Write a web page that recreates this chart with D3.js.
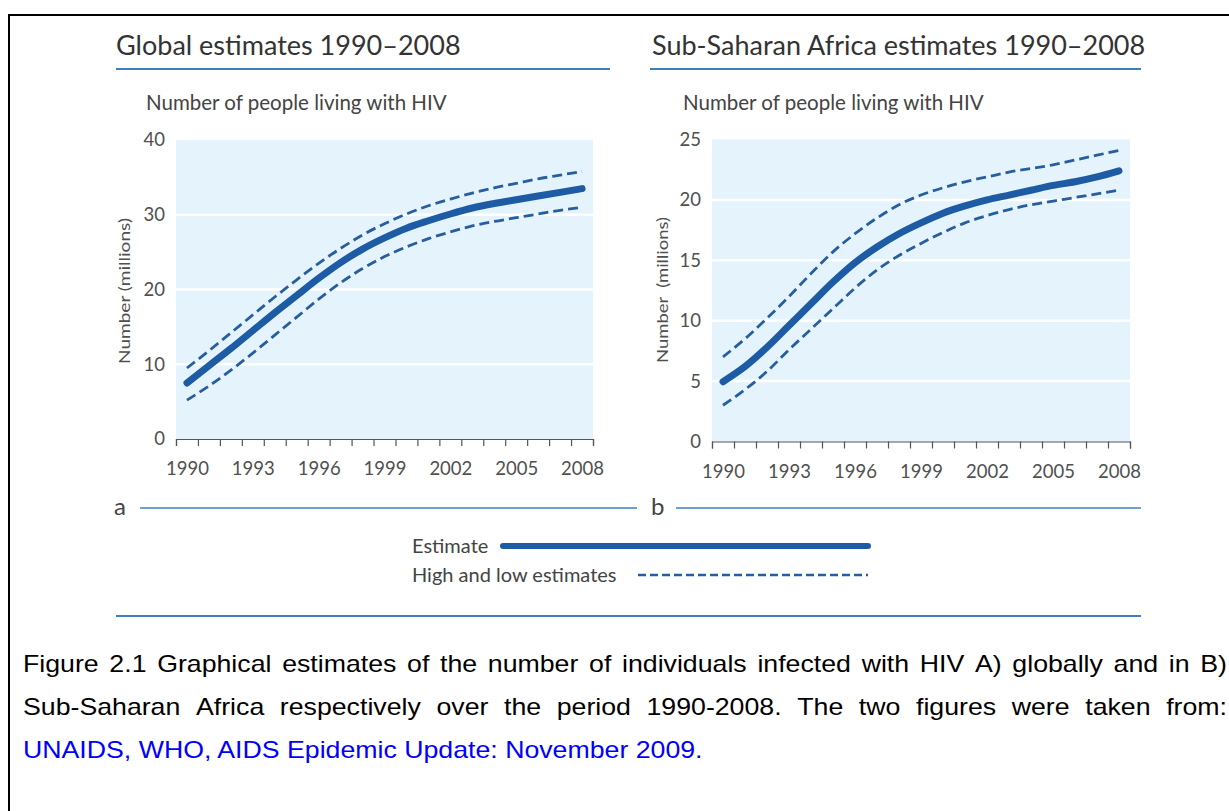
<!DOCTYPE html>
<html><head><meta charset="utf-8">
<script src="https://cdn.jsdelivr.net/npm/d3@7"></script>
<style>body{margin:0;background:#fff;overflow:hidden} svg{display:block}</style>
</head><body>
<svg id="c" width="1229" height="811"></svg>
<script>
// ---------- data ----------
const years = [1990,1991,1992,1993,1994,1995,1996,1997,1998,1999,2000,2001,2002,2003,2004,2005,2006,2007,2008];
const yearLabels = [1990,1993,1996,1999,2002,2005,2008];

const globalEstimate = [7.5,9.8,12.1,14.5,16.9,19.2,21.5,23.6,25.4,26.9,28.2,29.2,30.1,30.9,31.5,32.0,32.5,33.0,33.5];
const globalHigh     = [9.5,11.8,14.2,16.6,19.0,21.3,23.5,25.5,27.3,28.8,30.1,31.2,32.1,32.9,33.6,34.2,34.8,35.3,35.8];
const globalLow      = [5.2,7.1,9.2,11.5,13.9,16.3,18.7,20.9,22.8,24.4,25.7,26.8,27.7,28.5,29.1,29.6,30.1,30.6,31.0];

const ssaEstimate = [4.95,6.2,7.8,9.6,11.4,13.2,14.8,16.1,17.2,18.1,18.9,19.5,20.0,20.4,20.8,21.2,21.5,21.9,22.4];
const ssaHigh     = [7.0,8.5,10.2,12.0,13.9,15.7,17.2,18.5,19.6,20.4,21.0,21.5,21.9,22.3,22.6,22.9,23.3,23.7,24.1];
const ssaLow      = [3.0,4.3,5.8,7.6,9.3,11.0,12.7,14.2,15.4,16.4,17.3,18.1,18.7,19.2,19.6,19.9,20.2,20.5,20.8];

const globalTicks = [0,10,20,30,40];
const ssaTicks = [0,5,10,15,20,25];

const panelTitles = ["Global estimates 1990\u20132008","Sub-Saharan Africa estimates 1990\u20132008"];
const subTitle = "Number of people living with HIV";
const yTitles = ["Number (millions)","Number\u00a0\u00a0(millions)"];
const panelLetters = ["a","b"];
const legendLabels = ["Estimate","High and low estimates"];
const captionLines = [
  "Figure 2.1 Graphical estimates of the number of individuals infected with HIV A) globally and in B)",
  "Sub-Saharan Africa respectively over the period 1990-2008. The two figures were taken from:",
  "UNAIDS, WHO, AIDS Epidemic Update: November 2009."
];

// ---------- style ----------
const FONT = "Lato, 'Open Sans', sans-serif";
const BLUE_RULE = "#3f7fc0";
const LINE_BLUE = "#1d5ca5";
const DASH_BLUE = "#275e9e";
const BG = "#e5f3fc";

const svg = d3.select("#c");

// outer frame
svg.append("line").attr("x1",8).attr("x2",1229).attr("y1",15).attr("y2",15).attr("stroke","#000").attr("stroke-width",2);
svg.append("line").attr("x1",9).attr("x2",9).attr("y1",14).attr("y2",811).attr("stroke","#000").attr("stroke-width",2);

function panel(cfg){
  const g = svg.append("g");
  g.append("text").attr("x",cfg.titleX).attr("y",55).attr("font-family",FONT).attr("font-size",27)
    .attr("fill","#333").text(cfg.title);
  g.append("line").attr("x1",cfg.ruleX0).attr("x2",cfg.ruleX1).attr("y1",69).attr("y2",69)
    .attr("stroke",BLUE_RULE).attr("stroke-width",2);
  g.append("text").attr("x",cfg.subX).attr("y",110).attr("font-family",FONT).attr("font-size",20.5)
    .attr("fill","#444").text(subTitle);

  const x = d3.scaleLinear().domain([1989.5,2008.5]).range([cfg.x0,cfg.x1]);
  const y = d3.scaleLinear().domain([0,cfg.ymax]).range([cfg.yBottom,cfg.yTop]);

  g.append("rect").attr("x",cfg.x0).attr("y",cfg.yTop).attr("width",cfg.x1-cfg.x0).attr("height",cfg.yBottom-cfg.yTop)
    .attr("fill",BG);
  g.selectAll(".grid").data(cfg.ticks.filter(t=>t>0 && t<cfg.ymax)).join("line")
    .attr("x1",cfg.x0).attr("x2",cfg.x1).attr("y1",d=>y(d)).attr("y2",d=>y(d))
    .attr("stroke","#fff").attr("stroke-width",2.5);

  const ya = g.append("g").attr("transform",`translate(${cfg.x0},0)`)
    .call(d3.axisLeft(y).tickValues(cfg.ticks).tickSize(0).tickPadding(11));
  ya.select(".domain").remove();
  ya.selectAll("text").attr("font-family",FONT).attr("font-size",18.5).attr("fill","#505050");

  const edges = d3.range(years.length+1).map(i=>1989.5+i);
  const xa = g.append("g").attr("transform",`translate(0,${cfg.yBottom})`)
    .call(d3.axisBottom(x).tickValues(edges).tickSize(7).tickFormat(""));
  xa.select(".domain").attr("stroke","#555").attr("stroke-width",1.2);
  xa.selectAll(".tick line").attr("stroke","#555").attr("stroke-width",1.2);
  const xl = g.append("g").attr("transform",`translate(0,${cfg.yBottom})`)
    .call(d3.axisBottom(x).tickValues(yearLabels).tickSize(0).tickPadding(23).tickFormat(d3.format("d")));
  xl.select(".domain").remove();
  xl.selectAll("text").attr("font-family",FONT).attr("font-size",18.5).attr("fill","#505050");

  g.append("text").attr("transform",`translate(${cfg.yTitleX},${cfg.yTitleY}) rotate(-90)`)
    .attr("text-anchor","middle").attr("font-family",FONT).attr("font-size",16).attr("fill","#505050")
    .attr("textLength",146).attr("lengthAdjust","spacingAndGlyphs")
    .text(cfg.yTitle);

  const line = d3.line().x((d,i)=>x(years[i])).y(d=>y(d)).curve(d3.curveMonotoneX);
  [cfg.high,cfg.low].forEach(s=>{
    g.append("path").attr("d",line(s)).attr("fill","none").attr("stroke",DASH_BLUE)
      .attr("stroke-width",2.8).attr("stroke-dasharray","10,5");
  });
  g.append("path").attr("d",line(cfg.est)).attr("fill","none").attr("stroke",LINE_BLUE)
    .attr("stroke-width",7).attr("stroke-linecap","round");

  g.append("text").attr("x",cfg.letterX).attr("y",515).attr("font-family",FONT).attr("font-size",24)
    .attr("fill","#444").text(cfg.letter);
  g.append("line").attr("x1",cfg.letterRule0).attr("x2",cfg.letterRule1).attr("y1",508).attr("y2",508)
    .attr("stroke",BLUE_RULE).attr("stroke-width",1.6);
}

panel({title:panelTitles[0],titleX:116,ruleX0:116,ruleX1:610,subX:146,
  x0:176,x1:593,yTop:140,yBottom:439,ymax:40,ticks:globalTicks,
  yTitle:yTitles[0],yTitleX:130,yTitleY:291,
  est:globalEstimate,high:globalHigh,low:globalLow,
  letter:panelLetters[0],letterX:114,letterRule0:140,letterRule1:637});
panel({title:panelTitles[1],titleX:652,ruleX0:650,ruleX1:1141,subX:683,
  x0:712,x1:1130,yTop:139.5,yBottom:441.5,ymax:25,ticks:ssaTicks,
  yTitle:yTitles[1],yTitleX:668,yTitleY:290,
  est:ssaEstimate,high:ssaHigh,low:ssaLow,
  letter:panelLetters[1],letterX:651,letterRule0:676,letterRule1:1141});

// legend
svg.append("text").attr("x",412).attr("y",553).attr("font-family",FONT).attr("font-size",20).attr("fill","#444").text(legendLabels[0]);
svg.append("line").attr("x1",503).attr("x2",868).attr("y1",546).attr("y2",546).attr("stroke",LINE_BLUE).attr("stroke-width",6).attr("stroke-linecap","round");
svg.append("text").attr("x",412).attr("y",582).attr("font-family",FONT).attr("font-size",20).attr("fill","#444").text(legendLabels[1]);
svg.append("line").attr("x1",638).attr("x2",868).attr("y1",575).attr("y2",575).attr("stroke",DASH_BLUE).attr("stroke-width",2.5).attr("stroke-dasharray","8,4");
svg.append("line").attr("x1",116).attr("x2",1141).attr("y1",616).attr("y2",616).attr("stroke",BLUE_RULE).attr("stroke-width",2);

// caption (justified lines 1-2, horizontally scaled to match)
const CAP_FONT = "'Liberation Sans', Arial, sans-serif";
const CAP_SIZE = 24;
const capY = [672,715,758];
const capX0 = 23, capX1 = 1227, line3W = 680;
function measure(t){const n=svg.append("text").attr("font-family",CAP_FONT).attr("font-size",CAP_SIZE).attr("xml:space","preserve").text(t);const w=n.node().getComputedTextLength();n.remove();return w;}
const f = line3W / measure(captionLines[2]);
captionLines.forEach((txt,li)=>{
  const fill = li===2 ? "#0000ff" : "#000";
  const grp = svg.append("g").attr("transform",`translate(${capX0},0) scale(${f},1)`);
  if(li<2){
    const words = txt.split(" ");
    const widths = words.map(measure);
    const W = (capX1-capX0)/f;
    const gap = (W-d3.sum(widths))/(words.length-1);
    let cx = 0;
    const t = grp.append("text").attr("font-family",CAP_FONT).attr("font-size",CAP_SIZE).attr("fill",fill);
    words.forEach((w,i)=>{
      t.append("tspan").attr("x",cx).attr("y",capY[li]).text(w + (i<words.length-1?" ":""));
      cx += widths[i]+gap;
    });
  } else {
    grp.append("text").attr("x",0).attr("y",capY[li]).attr("font-family",CAP_FONT).attr("font-size",CAP_SIZE)
      .attr("fill",fill).text(txt);
  }
});
</script>
</body></html>
